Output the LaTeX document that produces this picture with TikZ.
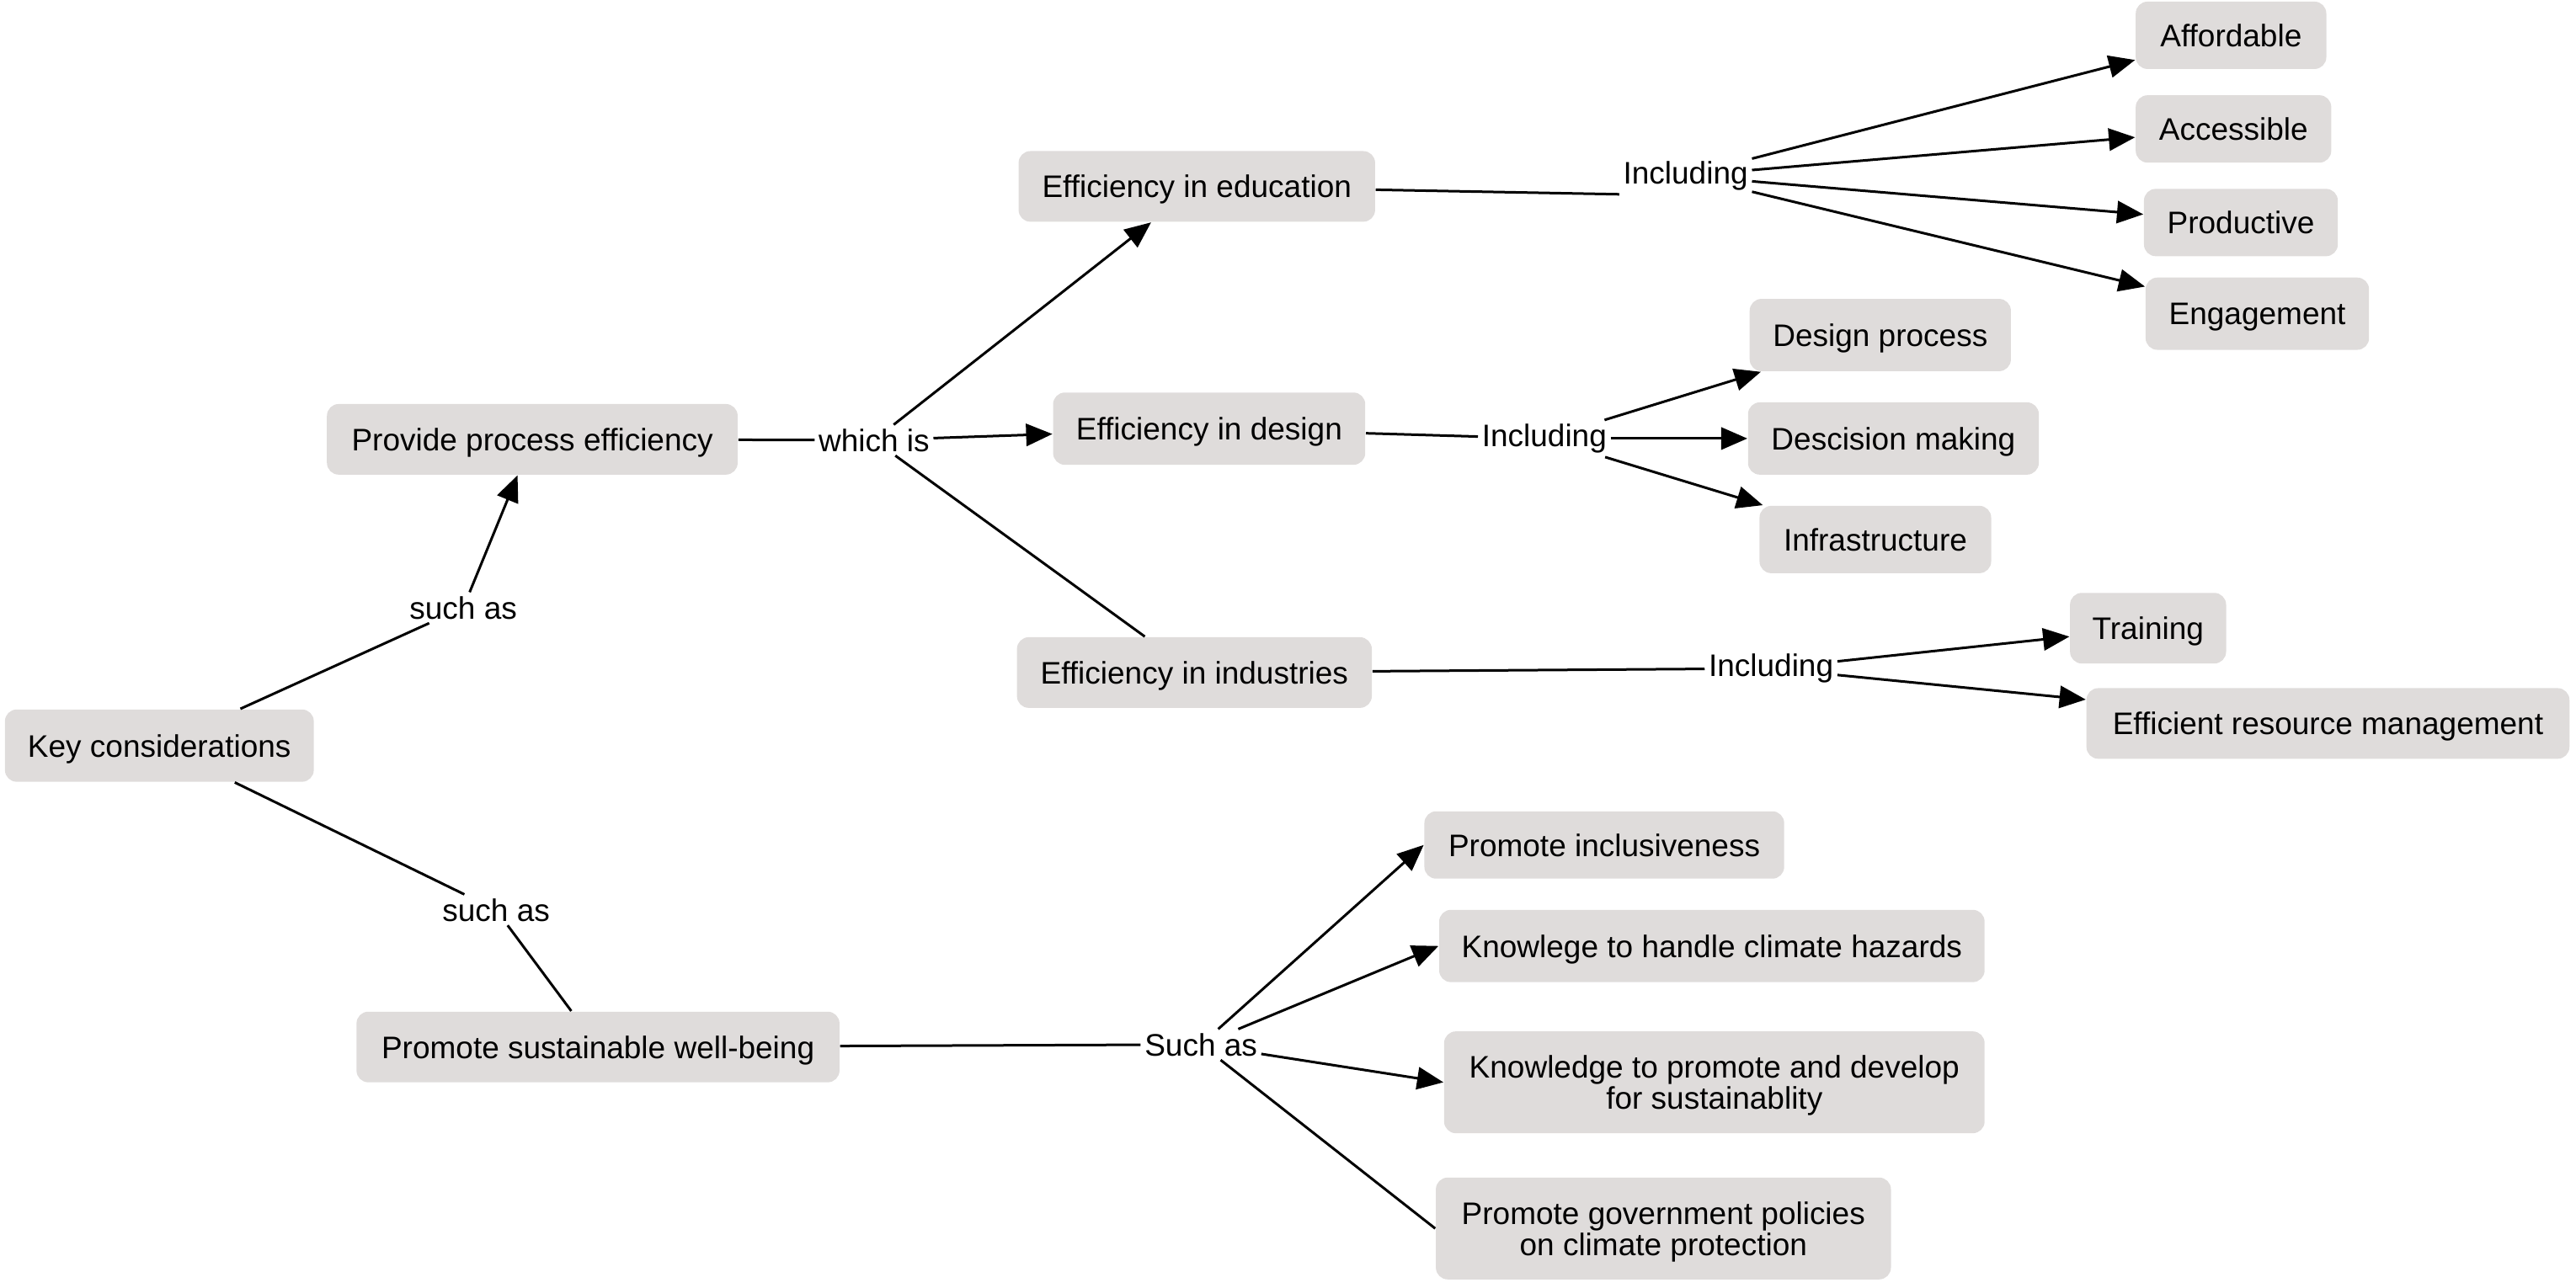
\documentclass[tikz,border=0pt]{standalone}
\usepackage{fontspec}
\setmainfont{Liberation Sans}
\usetikzlibrary{arrows.meta}
\definecolor{boxgray}{RGB}{223,220,219}
\def\pxu{0.48776pt}
\begin{document}
\begin{tikzpicture}[x=0.48776pt, y=-0.48776pt,
  box/.style={fill=boxgray, rounded corners=3.5pt, inner sep=0pt, align=center,
    text depth=0pt, font=\fontsize{9.25}{9.3}\selectfont},
  lbl/.style={inner sep=1pt, font=\fontsize{9.25}{11}\selectfont},
  conn/.style={line width=0.75pt, black},
  arr/.style={conn, -{Triangle[length=7.8pt,width=6.6pt]}}]
\useasboundingbox (0,0) rectangle (1568,783.8);

% boxes
\node[box, minimum width=188*\pxu, minimum height=44*\pxu] (key)  at (97,454)     {Key considerations};
\node[box, minimum width=250*\pxu, minimum height=43*\pxu] (prov) at (324,267.5)  {Provide process efficiency};
\node[box, minimum width=294*\pxu, minimum height=43*\pxu] (sust) at (364,637.5)  {Promote sustainable well-being};
\node[box, minimum width=217*\pxu, minimum height=43*\pxu] (edu)  at (728.5,113.5) {Efficiency in education};
\node[box, minimum width=190*\pxu, minimum height=44*\pxu] (des)  at (736,261)    {Efficiency in design};
\node[box, minimum width=216*\pxu, minimum height=43*\pxu] (ind)  at (727,409.5)  {Efficiency in industries};
\node[box, minimum width=116*\pxu, minimum height=41*\pxu] (aff)  at (1358,21.5)  {Affordable};
\node[box, minimum width=119*\pxu, minimum height=41*\pxu] (acc)  at (1359.5,78.5) {Accessible};
\node[box, minimum width=118*\pxu, minimum height=41*\pxu] (prod) at (1364,135.5) {Productive};
\node[box, minimum width=136*\pxu, minimum height=44*\pxu] (eng)  at (1374,191)   {Engagement};
\node[box, minimum width=159*\pxu, minimum height=44*\pxu] (dp)   at (1144.5,204) {Design process};
\node[box, minimum width=177*\pxu, minimum height=44*\pxu] (dm)   at (1152.5,267) {Descision making};
\node[box, minimum width=141*\pxu, minimum height=41*\pxu] (inf)  at (1141.5,328.5) {Infrastructure};
\node[box, minimum width=95*\pxu,  minimum height=43*\pxu] (tr)   at (1307.5,382.5) {Training};
\node[box, minimum width=294*\pxu, minimum height=43*\pxu] (erm)  at (1417,440.5)  {Efficient resource management};
\node[box, minimum width=219*\pxu, minimum height=41*\pxu] (pi)   at (976.5,514.5) {Promote inclusiveness};
\node[box, minimum width=332*\pxu, minimum height=44*\pxu] (kh)   at (1042,576)    {Knowlege to handle climate hazards};
\node[box, minimum width=329*\pxu, minimum height=62*\pxu] (kp)   at (1043.5,659)  {Knowledge to promote and develop\\for sustainablity};
\node[box, minimum width=277*\pxu, minimum height=62*\pxu] (pg)   at (1012.5,748)  {Promote government policies\\on climate protection};

% labels
\node[lbl] (sa1)  at (282,370)  {such as};
\node[lbl] (sa2)  at (302,554)  {such as};
\node[lbl] (wi)   at (532,268)  {which is};
\node[lbl] (inc1) at (1026,107) {Including};
\node[lbl] (inc2) at (940,267)  {Including};
\node[lbl] (inc3) at (1078,407) {Including};
\node[lbl] (sa3)  at (731,636)  {Such as};

% connectors
\draw[conn] (key) -- (sa1);
\draw[arr]  (sa1) -- (prov);
\draw[conn] (key) -- (sa2);
\draw[conn] (sa2) -- (sust);
\draw[conn] (prov) -- (wi);
\draw[arr]  (wi) -- (edu);
\draw[arr]  (wi) -- (des);
\draw[conn] (wi) -- (ind);
\draw[conn] (edu) -- (inc1.south west);
\draw[arr]  (inc1) -- (aff);
\draw[arr]  (inc1) -- (acc);
\draw[arr]  (inc1) -- (prod);
\draw[arr]  (inc1) -- (eng);
\draw[conn] (des) -- (inc2);
\draw[arr]  (inc2) -- (dp);
\draw[arr]  (inc2) -- (dm);
\draw[arr]  (inc2) -- (inf);
\draw[conn] (ind) -- (inc3);
\draw[arr]  (inc3) -- (tr);
\draw[arr]  (inc3) -- (erm);
\draw[conn] (sust) -- (sa3);
\draw[arr]  (sa3) -- (pi.west);
\draw[arr]  (sa3) -- (kh.west);
\draw[arr]  (sa3) -- (kp.west);
\draw[conn] (sa3) -- (pg.west);
\end{tikzpicture}
\end{document}
